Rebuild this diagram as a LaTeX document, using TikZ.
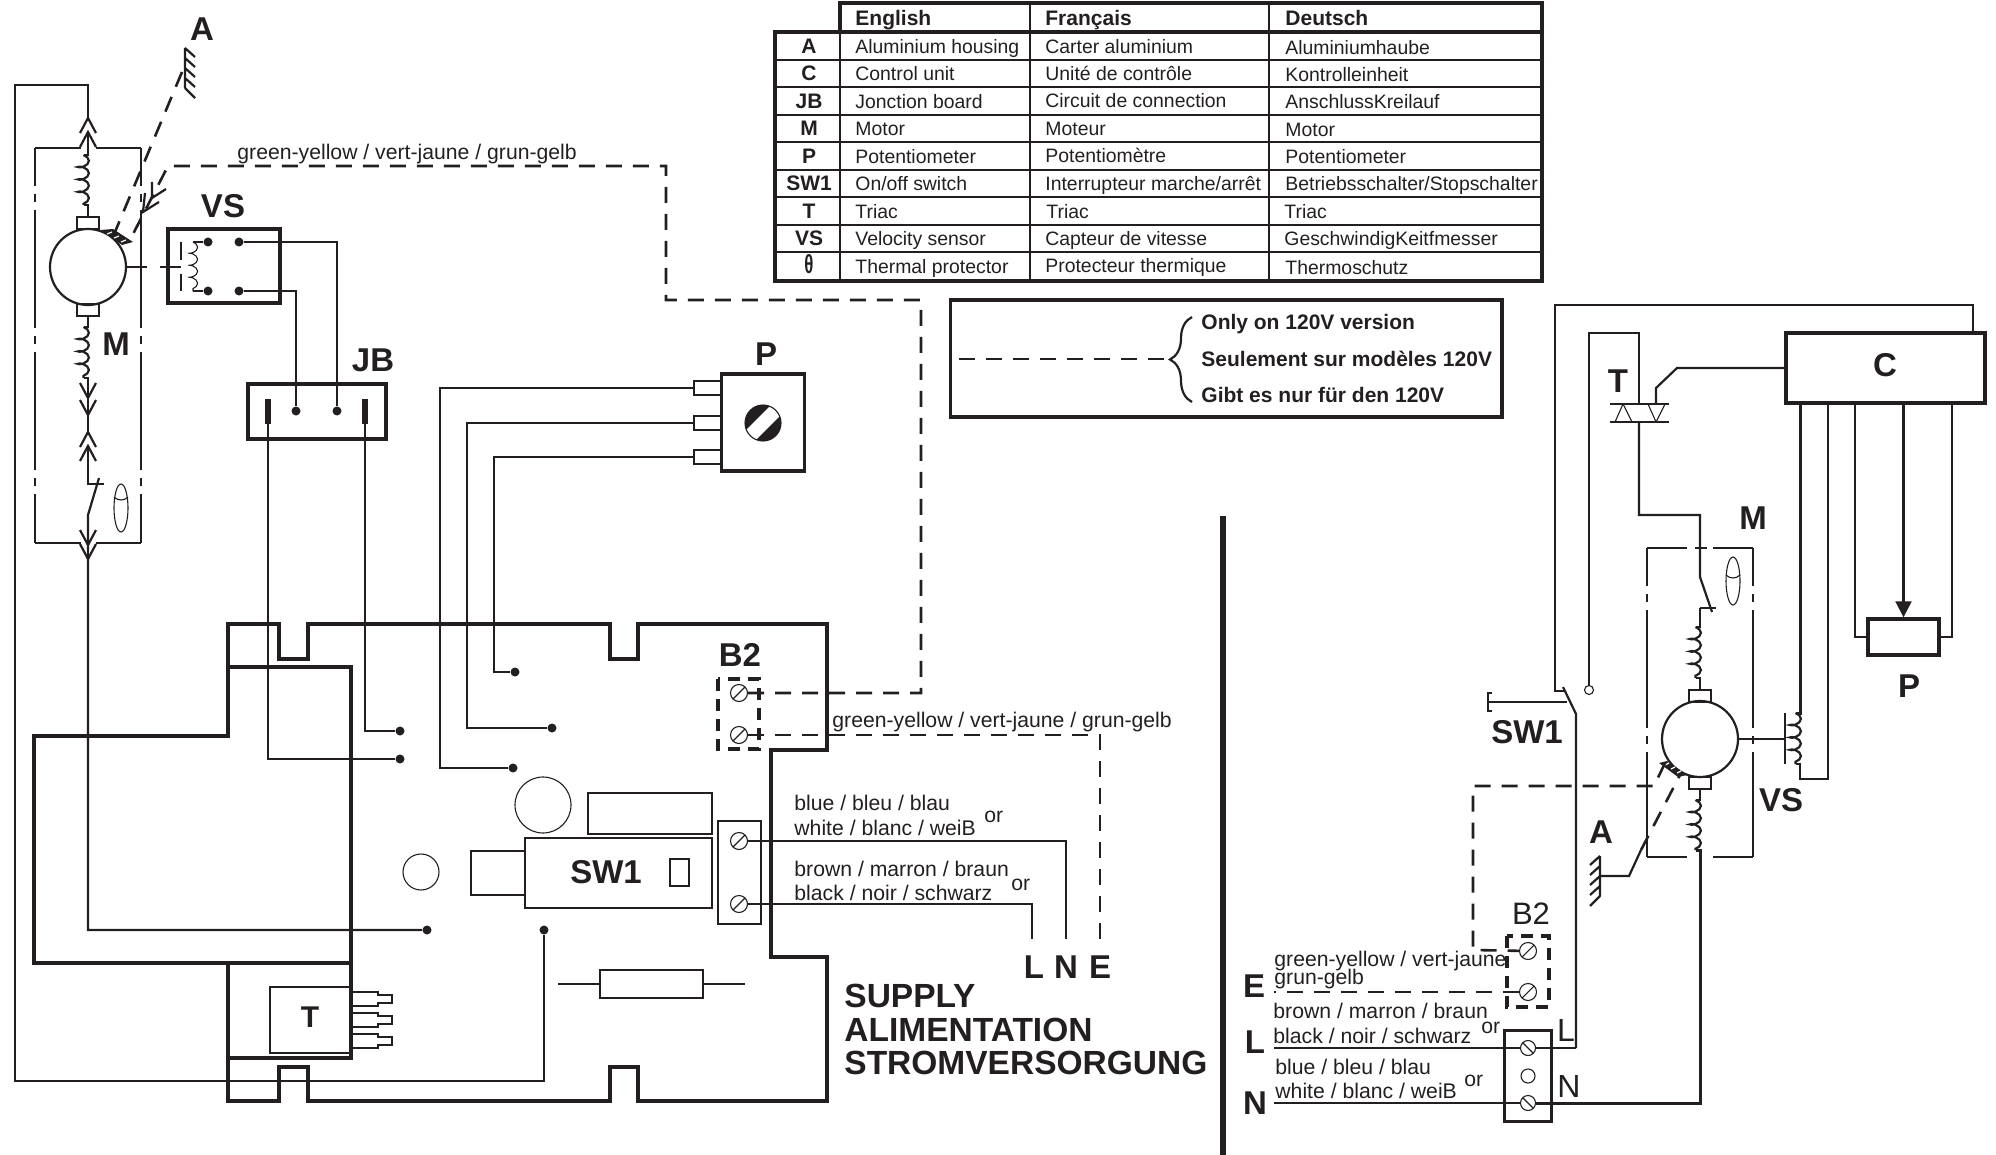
\documentclass[tikz,border=0pt]{standalone}
\usepackage{fontspec}
\setmainfont{Liberation Sans}
\usetikzlibrary{arrows.meta}
\usetikzlibrary{decorations.pathmorphing}
\usetikzlibrary{decorations.pathreplacing}
\definecolor{ink}{RGB}{35,31,32}
\tikzset{wire/.style = {line width = 1.1pt}}
\tikzset{heavy/.style = {line width = 1.5pt}}
\tikzset{fine/.style = {line width = 0.55pt}}
\tikzset{board/.style = {line width = 1.8pt}}
\tikzset{dashw/.style = {line width = 1.3pt, dash pattern = on 8pt off 5.5pt}}
\tikzset{dashbox/.style = {line width = 1.7pt, dash pattern = on 6pt off 4pt}}
\tikzset{dashdot/.style = {line width = 0.55pt, dash pattern = on 59pt off 4pt on 4pt off 4pt, dash phase = 40pt}}
\tikzset{circ/.style = {fill, circle, inner sep = 0, minimum size = 4.5pt}}
\tikzset{box/.style = {draw, line width = 1.7pt, inner sep = 0}}
\tikzset{part/.style = {draw, fine, inner sep = 0}}
\tikzset{motor/.style = {draw, line width = 1.1pt, circle, inner sep = 0, minimum size = 38pt}}
\tikzset{brush/.style = {draw, line width = 1pt, inner sep = 0, minimum width = 11pt, minimum height = 6pt}}
\tikzset{screw/.style = {draw, fine, circle, inner sep = 0, minimum size = 8.5pt,
                         path picture = {\draw [fine] (-8,8) -- (8,-8);}}}
\tikzset{screwb/.style = {draw, fine, circle, inner sep = 0, minimum size = 7.5pt,
                          path picture = {\draw [fine] (-8,-8) -- (8,8);}}}
\tikzset{coilw/.style = {decorate, decoration = {coil, aspect = 0.5, amplitude = 2.7pt, segment length = 6.2pt}}}
\tikzset{lab/.style = {font = \fontsize{16.5}{18}\selectfont\bfseries, inner sep = 0}}
\tikzset{labr/.style = {font = \fontsize{16}{18}\selectfont, inner sep = 0}}
\tikzset{txt/.style = {font = \fontsize{10.6}{12}\selectfont, anchor = base west, inner sep = 0}}
\tikzset{cell/.style = {font = \fontsize{9.7}{12}\selectfont, anchor = base west, inner sep = 0}}
\tikzset{head/.style = {font = \fontsize{10.5}{12}\selectfont\bfseries, anchor = base west, inner sep = 0}}
\tikzset{keyc/.style = {font = \fontsize{10.5}{12}\selectfont\bfseries, anchor = base, inner sep = 0}}
\tikzset{supply/.style = {font = \fontsize{16.75}{18}\selectfont\bfseries, anchor = base west, inner sep = 0}}
\newcommand{\chev}[3]{\draw [wire] (#1-8,#2+#3) -- (#1,#2) -- (#1+8,#2+#3);}
\newcommand{\earth}[3]{\draw [wire] (#1,#2) -- ++(0,40) (#1,#2) -- ++(#3,9) (#1,#2+10) -- ++(#3,9)
  (#1,#2+20) -- ++(#3,9) (#1,#2+30) -- ++(#3,9) (#1,#2+40) -- ++(#3,10);}
\newcommand{\pin}[1]{\draw [fine] (353,#1-7) -- (378,#1-7) -- (378,#1-4) -- (392,#1-4) -- (392,#1+4) -- (378,#1+4) -- (378,#1+7) -- (353,#1+7);}

\begin{document}
\begin{tikzpicture}[x = 0.5pt, y = -0.5pt, color = ink]
      \useasboundingbox (0, 0) rectangle (1996, 1155);

      % table
      \draw [line width = 1.7pt] (840, 3) rectangle (1542, 32);
      \draw [line width = 1.7pt] (775, 32) rectangle (1542, 281);
      \draw [wire] (840, 3) -- (840, 281);
      \draw [wire] (1030, 3) -- (1030, 281);
      \draw [wire] (1269, 3) -- (1269, 281);
      \draw [wire] (775, 60) -- (1542, 60);
      \draw [wire] (775, 87) -- (1542, 87);
      \draw [wire] (775, 115) -- (1542, 115);
      \draw [wire] (775, 142) -- (1542, 142);
      \draw [wire] (775, 170) -- (1542, 170);
      \draw [wire] (775, 197) -- (1542, 197);
      \draw [wire] (775, 225) -- (1542, 225);
      \draw [wire] (775, 252) -- (1542, 252);

      \begin{scope}[yshift = -0.6pt]
      \node [head] (hEn) at (855, 24) {English};
      \node [head] (hFr) at (1045, 24) {Français};
      \node [head] (hDe) at (1285, 24) {Deutsch};
      \node [keyc] (kA) at (809, 52) {A};
      \node [cell] (enA) at (855, 52) {Aluminium housing};
      \node [cell] (frA) at (1045, 52) {Carter aluminium};
      \node [cell] (deA) at (1285, 53) {Aluminiumhaube};
      \node [keyc] (kC) at (809, 79) {C};
      \node [cell] (enC) at (855, 79) {Control unit};
      \node [cell] (frC) at (1045, 79) {Unité de contrôle};
      \node [cell] (deC) at (1285, 80) {Kontrolleinheit};
      \node [keyc] (kJB) at (809, 107) {JB};
      \node [cell] (enJB) at (855, 107) {Jonction board};
      \node [cell] (frJB) at (1045, 106) {Circuit de connection};
      \node [cell] (deJB) at (1285, 107) {AnschlussKreilauf};
      \node [keyc] (kM) at (809, 134) {M};
      \node [cell] (enM) at (855, 134) {Motor};
      \node [cell] (frM) at (1045, 134) {Moteur};
      \node [cell] (deM) at (1285, 135) {Motor};
      \node [keyc] (kP) at (809, 162) {P};
      \node [cell] (enP) at (855, 162) {Potentiometer};
      \node [cell] (frP) at (1045, 161) {Potentiomètre};
      \node [cell] (deP) at (1285, 162) {Potentiometer};
      \node [keyc] (kSW) at (809, 189) {SW1};
      \node [cell] (enSW) at (855, 189) {On/off switch};
      \node [cell] (frSW) at (1045, 189) {Interrupteur marche/arrêt};
      \node [cell] (deSW) at (1285, 189) {Betriebsschalter/Stopschalter};
      \node [keyc] (kT) at (809, 217) {T};
      \node [cell] (enT) at (855, 217) {Triac};
      \node [cell] (frT) at (1046, 217) {Triac};
      \node [cell] (deT) at (1284, 217) {Triac};
      \node [keyc] (kVS) at (809, 244) {VS};
      \node [cell] (enVS) at (855, 244) {Velocity sensor};
      \node [cell] (frVS) at (1045, 244) {Capteur de vitesse};
      \node [cell] (deVS) at (1284, 244) {GeschwindigKeitfmesser};
      \node [keyc] (kTh) at (809, 272) {\scalebox{.8}[1.25]{θ}};
      \node [cell] (enTh) at (855, 272) {Thermal protector};
      \node [cell] (frTh) at (1045, 271) {Protecteur thermique};
      \node [cell] (deTh) at (1285, 273) {Thermoschutz};
      \end{scope}

      % legend
      \node [box, minimum width = 275.7pt, minimum height = 58.5pt] (legend) at (1226.4, 358.5) {};
      \coordinate (legA) at (959, 359);
      \coordinate (legB) at (1170, 359);
      \draw [dashw] (legA) -- (legB);
      \draw [wire, decorate, decoration = {brace, mirror, amplitude = 11pt, aspect = 0.5}] (1192, 317) -- (1192, 402);
      \node [head] (leg1) at (1201, 329) {Only on 120V version};
      \node [head] (leg2) at (1201, 366) {Seulement sur modèles 120V};
      \node [head] (leg3) at (1201, 402) {Gibt es nur für den 120V};

      % left motor
      \node [motor] (mL) at (88, 267) {};
      \node [brush] (brLt) at (88, 223) {};
      \node [brush] (brLb) at (88, 310) {};
      \node [lab] (labM) at (116, 344) {M};
      \node [lab] (labA) at (202, 29) {A};
      \draw [fine] (35, 148) -- (81, 148);
      \draw [fine] (96, 148) -- (141, 148);
      \draw [fine] (35, 543) -- (81, 543);
      \draw [fine] (96, 543) -- (141, 543);
      \draw [dashdot] (35, 148) -- (35, 543);
      \draw [dashdot] (141, 148) -- (141, 543);

      \coordinate (plugA) at (88, 118);
      \coordinate (plugB) at (88, 132);
      \node [circ] (dotN) at (544, 930) {};
      \node [circ] (dotW) at (427, 930) {};
      \draw [wire] (plugA) -- (88, 85) -- (15, 85) -- (15, 1081) -- (544, 1081) -- (dotN);
      \chev{88}{118}{15}
      \chev{88}{132}{15}
      \draw [wire] (plugB) -- (88, 155) -- (83.5, 155);
      \draw [wire, coilw] (83.5, 155) -- (83.5, 205);
      \draw [wire] (83.5, 205) -- (88, 205) -- (brLt);
      \draw [wire] (brLb) -- (88, 327) -- (83.5, 327);
      \draw [wire, coilw] (83.5, 327) -- (83.5, 378);
      \draw [wire] (83.5, 378) -- (88, 378) -- (88, 415);
      \chev{88}{398}{-15}
      \chev{88}{415}{-15}
      \chev{88}{432}{15}
      \chev{88}{446}{15}
      \draw [wire] (88, 415) -- (88, 432);
      \draw [wire] (88, 446) -- (88, 484) -- (104, 484);
      \draw [wire] (99, 478) -- (88, 515) -- (88, 559) -- (88, 930) -- (dotW);
      \chev{88}{545}{-15}
      \chev{88}{559}{-15}
      \draw [fine] (121, 508) ellipse [x radius = 7, y radius = 24];
      \draw [fine] (114, 497) .. controls (118, 501) and (124, 501) .. (128, 497);

      % housing and earth
      \fill (101, 230) -- (113, 229) -- (133, 242) -- (122, 245) -- cycle;
      \draw [white, line width = 0.6pt] (107, 234) -- (112, 232) (114, 238) -- (119, 236) (121, 242) -- (126, 240);
      \earth{185}{48}{10}
      \coordinate (earthL) at (182, 72);
      \coordinate (stripLa) at (115, 232);
      \coordinate (stripLb) at (130, 240);
      \draw [dashw] (earthL) -- (stripLa);
      \draw [wire] (152, 182) -- (152, 198) -- (166, 189);
      \draw [wire] (145, 193) -- (143, 212) -- (159, 202);
      \node [txt] (gyA) at (237, 160) {green-yellow / vert-jaune / grun-gelb};

      % velocity sensor
      \node [box, minimum width = 56pt, minimum height = 37pt] (vs) at (224, 266) {};
      \node [lab] (labVS) at (223, 206) {VS};
      \node [circ] (vsA) at (208, 242) {};
      \node [circ] (vsB) at (208, 291) {};
      \node [circ] (vsC) at (239, 242) {};
      \node [circ] (vsD) at (239, 291) {};
      \draw [fine] (vsA) -- (193, 242);
      \draw [fine, decorate, decoration = {coil, aspect = 0.5, amplitude = 2.3pt, segment length = 6pt}] (193, 242) -- (193, 291);
      \draw [fine] (193, 291) -- (vsB);
      \draw [wire] (181, 242) -- (181, 260);
      \draw [wire] (181, 274) -- (181, 291);
      \draw [wire] (mL) ++(38, 0) -- (147, 267);
      \draw [wire] (160, 267) -- (181, 267);

      % junction board
      \node [box, minimum width = 69pt, minimum height = 27.5pt] (jb) at (317, 411.5) {};
      \node [lab] (labJB) at (373, 360) {JB};
      \node [circ] (jbA) at (296, 411) {};
      \node [circ] (jbB) at (337, 411) {};
      \node [fill, inner sep = 0, minimum width = 3pt, minimum height = 12.5pt] (jbC) at (268, 411.5) {};
      \node [fill, inner sep = 0, minimum width = 3pt, minimum height = 12.5pt] (jbD) at (365, 411.5) {};
      \draw [wire] (vsD) -- (296, 291) -- (jbA);
      \draw [wire] (vsC) -- (337, 242) -- (jbB);
      \node [circ] (pcbA) at (400, 759) {};
      \node [circ] (pcbB) at (400, 731) {};
      \draw [wire] (jbC) -- (268, 759) -- (pcbA);
      \draw [wire] (jbD) -- (365, 731) -- (pcbB);

      % potentiometer
      \node [box, minimum width = 41.5pt, minimum height = 48.5pt] (pot) at (763, 422.5) {};
      \node [lab] (labP) at (766, 354) {P};
      \node [draw, fine, fill, circle, inner sep = 0, minimum size = 18pt,
             path picture = {\draw [white, line width = 7pt] (-20, 20) -- (20, -20);}] (knob) at (763, 423) {};
      \node [part, minimum width = 14pt, minimum height = 7pt] (potA) at (708, 388) {};
      \node [part, minimum width = 14pt, minimum height = 7pt] (potB) at (708, 423) {};
      \node [part, minimum width = 14pt, minimum height = 7pt] (potC) at (708, 457) {};
      \node [circ] (pcbC) at (513, 768) {};
      \node [circ] (pcbD) at (552, 728) {};
      \node [circ] (pcbE) at (515, 672) {};
      \draw [wire] (potA) -- (440, 388) -- (440, 768) -- (pcbC);
      \draw [wire] (potB) -- (467, 423) -- (467, 728) -- (pcbD);
      \draw [wire] (potC) -- (494, 457) -- (494, 672) -- (pcbE);

      % board
      \draw [board] (228, 736) -- (228, 624) -- (279, 624) -- (279, 659) -- (308, 659) -- (308, 624)
        -- (610, 624) -- (610, 659) -- (638, 659) -- (638, 624) -- (827, 624) -- (827, 750) -- (771, 750)
        -- (771, 957) -- (827, 957) -- (827, 1101) -- (638, 1101) -- (638, 1067) -- (610, 1067) -- (610, 1101)
        -- (308, 1101) -- (308, 1067) -- (279, 1067) -- (279, 1101) -- (228, 1101) -- (228, 963) -- (34, 963)
        -- (34, 736) -- cycle;
      \draw [board] (228, 667) -- (351, 667) -- (351, 1058) -- (228, 1058);
      \draw [board] (228, 963) -- (351, 963);

      \node [part, minimum width = 40.5pt, minimum height = 33pt] (triacL) at (310.5, 1020) {};
      \node [lab, font = \fontsize{15}{18}\selectfont\bfseries] (labTl) at (310, 1017) {T};
      \pin{999}
      \pin{1020}
      \pin{1041}
      \node [part, circle, minimum size = 28pt] (capA) at (543, 805) {};
      \node [part, circle, minimum size = 18pt] (capB) at (421, 872) {};
      \node [part, minimum width = 62pt, minimum height = 20.5pt] (relay) at (650, 813.5) {};
      \node [part, minimum width = 93.5pt, minimum height = 35pt] (sw) at (618.5, 873) {};
      \node [part, minimum width = 27pt, minimum height = 22pt] (swTab) at (498, 873) {};
      \node [lab] (labSW) at (606, 872) {SW1};
      \node [part, minimum width = 9.5pt, minimum height = 13.5pt] (swLed) at (679.5, 872.5) {};
      \node [part, minimum width = 51.5pt, minimum height = 14pt] (res) at (651.5, 984) {};
      \coordinate (resA) at (558, 984);
      \coordinate (resB) at (745, 984);
      \draw [fine] (resA) -- (res);
      \draw [fine] (res) -- (resB);

      % supply terminals
      \node [part, minimum width = 21.5pt, minimum height = 51.5pt] (tbL) at (739.5, 872.5) {};
      \node [screw] (scrA) at (739, 841) {};
      \node [screw] (scrB) at (739, 904) {};
      \node [lab] (labB2) at (740, 655) {B2};
      \draw [dashbox] (718, 679) rectangle (759, 749);
      \node [screw] (b2a) at (739, 693) {};
      \node [screw] (b2b) at (739, 735) {};
      \coordinate (endL) at (1032, 939);
      \coordinate (endN) at (1066, 939);
      \coordinate (endE) at (1100, 939);
      \draw [wire] (scrA) -- (1066, 841) -- (endN);
      \draw [wire] (scrB) -- (1032, 904) -- (endL);
      \draw [dashw] (b2a) -- (921, 693) -- (921, 300) -- (666, 300) -- (666, 166) -- (168, 166) -- (stripLb);
      \draw [dashw] (b2b) -- (1100, 735) -- (endE);
      \node [txt] (gyB) at (832, 727) {green-yellow / vert-jaune / grun-gelb};
      \node [txt] (blueA) at (794, 810) {blue / bleu / blau};
      \node [txt] (whiteA) at (794, 835) {white / blanc / weiB};
      \node [txt] (orA) at (984, 822) {or};
      \node [txt] (brownA) at (794, 876) {brown / marron / braun};
      \node [txt] (blackA) at (794, 900) {black / noir / schwarz};
      \node [txt] (orB) at (1011, 890) {or};
      \node [lab] (labL) at (1034, 967) {L};
      \node [lab] (labN) at (1066, 967) {N};
      \node [lab] (labE) at (1100, 967) {E};
      \node [supply] (sup1) at (844, 1007) {SUPPLY};
      \node [supply] (sup2) at (844, 1041) {ALIMENTATION};
      \node [supply] (sup3) at (844, 1074) {STROMVERSORGUNG};

      % divider
      \draw [line width = 2.6pt] (1223, 516) -- (1223, 1155);

      % right side
      \node [box, minimum width = 99.5pt, minimum height = 35pt] (ctrl) at (1885.5, 368) {};
      \node [lab] (labC) at (1885, 365) {C};
      \coordinate (ctrlA) at (1973, 333);
      \draw [wire] (ctrlA) -- (1973, 305) -- (1555, 305) -- (1555, 691) -- (1566, 691);
      \node [draw, fine, circle, fill = white, inner sep = 0, minimum size = 4.5pt] (swOpen) at (1589, 690) {};
      \coordinate (triacA) at (1639, 404);
      \coordinate (triacB) at (1639, 422);
      \draw [wire] (swOpen) -- (1589, 333) -- (1639, 333) -- (triacA);
      \draw [wire] (1610, 404) -- (1669, 404);
      \draw [wire] (1610, 422) -- (1669, 422);
      \draw [fine] (1623, 404) -- (1615, 422) (1623, 404) -- (1632, 422);
      \draw [fine] (1656, 422) -- (1648, 404) (1656, 422) -- (1665, 404);
      \node [lab] (labTr) at (1618, 381) {T};
      \draw [wire] (ctrl.west) -- (1677, 368) -- (1656, 388) -- (1656, 404);
      \coordinate (motA) at (1700, 608);
      \draw [wire] (triacB) -- (1639, 515) -- (1700, 515) -- (1700, 577) -- (1712, 612);
      \draw [wire] (1716, 608) -- (motA);
      \draw [wire] (motA) -- (1700, 627) -- (1695.5, 627);
      \draw [wire, coilw] (1695.5, 627) -- (1695.5, 678);
      \node [lab] (labMr) at (1753, 518) {M};
      \draw [fine] (1647, 548) -- (1687, 548);
      \draw [fine] (1695, 548) -- (1707, 548);
      \draw [fine] (1713, 548) -- (1753, 548);
      \draw [fine] (1647, 857) -- (1687, 857);
      \draw [fine] (1713, 857) -- (1753, 857);
      \draw [dashdot] (1647, 548) -- (1647, 857);
      \draw [dashdot] (1753, 548) -- (1753, 857);
      \draw [fine] (1733, 581) ellipse [x radius = 7, y radius = 24];
      \draw [fine] (1726, 575) .. controls (1730, 579) and (1736, 579) .. (1740, 575);

      \node [motor] (mR) at (1700, 739) {};
      \node [brush] (brRt) at (1700, 696) {};
      \node [brush] (brRb) at (1700, 783) {};
      \draw [wire] (1695.5, 678) -- (1700, 678) -- (brRt);
      \draw [wire] (brRb) -- (1700, 800) -- (1695.5, 800);
      \draw [wire, coilw] (1695.5, 800) -- (1695.5, 850);

      % velocity sensor, right
      \draw [wire] (mR) ++(38, 0) -- (1785, 739);
      \draw [wire] (1785, 713) -- (1785, 764);
      \node [lab] (labVSr) at (1781, 800) {VS};
      \coordinate (ctrlB) at (1800, 403);
      \coordinate (ctrlC) at (1828, 403);
      \draw [heavy] (ctrlB) -- (1800, 713) -- (1795.5, 713);
      \draw [wire, coilw] (1795.5, 713) -- (1795.5, 764);
      \draw [wire] (1795.5, 764) -- (1800, 764) -- (1800, 779) -- (1828, 779) -- (ctrlC);

      % potentiometer, right
      \node [box, minimum width = 35.5pt, minimum height = 18pt] (potR) at (1903.5, 637) {};
      \node [lab] (labPr) at (1909, 686) {P};
      \coordinate (ctrlD) at (1855, 403);
      \coordinate (ctrlE) at (1903.5, 403);
      \coordinate (ctrlF) at (1952, 403);
      \draw [wire] (ctrlD) -- (1855, 637) -- (potR.west);
      \draw [wire] (potR.east) -- (1952, 637) -- (ctrlF);
      \draw [wire, -{Triangle[length = 8pt, width = 8pt]}] (ctrlE) -- (potR.north);

      % switch, right
      \draw [wire] (1563, 687) -- (1576, 714) -- (1576, 1048);
      \draw [wire] (1488, 702) -- (1567, 702);
      \draw [wire] (1492, 693) -- (1488, 693) -- (1488, 711) -- (1492, 711);
      \node [lab] (labSWr) at (1527, 732) {SW1};

      % housing and earth, right
      \fill (1659, 763) -- (1667, 761) -- (1687, 775) -- (1678, 777) -- cycle;
      \draw [white, line width = 0.6pt] (1665, 765) -- (1669, 763) (1671, 769) -- (1675, 767) (1677, 773) -- (1681, 771);
      \earth{1600}{856}{-10}
      \node [lab] (labAr) at (1601, 832) {A};
      \coordinate (earthR) at (1600, 876);
      \coordinate (stripRa) at (1680, 775);
      \coordinate (stripRb) at (1665, 763);
      \draw [wire] (earthR) -- (1629, 876) -- (1641, 850);
      \draw [dashw] (1641, 850) -- (stripRa);

      % mains terminals, right
      \node [lab, font = \fontsize{15.5}{18}\selectfont] (labB2r) at (1531, 914) {B2};
      \draw [dashbox] (1507, 936) rectangle (1549, 1007);
      \node [screw] (b2c) at (1528, 951) {};
      \node [screw] (b2d) at (1528, 992) {};
      \coordinate (endEr) at (1274, 992);
      \draw [dashw] (stripRb) -- (1654, 786) -- (1473, 786) -- (1473, 950) -- (b2c);
      \draw [dashw] (b2d) -- (endEr);
      \node [box, minimum width = 23.5pt, minimum height = 45.5pt] (block) at (1528, 1076) {};
      \node [screwb] (scrL) at (1528, 1048) {};
      \node [screwb] (scrN) at (1528, 1103) {};
      \node [part, circle, minimum size = 7pt] (hole) at (1528, 1076) {};
      \coordinate (endLr) at (1274, 1048);
      \coordinate (endNr) at (1274, 1103);
      \draw [wire] (endLr) -- (scrL);
      \draw [wire] (scrL) -- (1576, 1048);
      \draw [wire] (endNr) -- (scrN);
      \draw [heavy] (scrN) -- (1700, 1103) -- (1700, 850) -- (1695.5, 850);
      \node [txt] (gyC) at (1274, 966) {green-yellow / vert-jaune};
      \node [txt] (gyD) at (1274, 984) {grun-gelb};
      \node [txt] (brownB) at (1273, 1018) {brown / marron / braun};
      \node [txt] (blackB) at (1273, 1043) {black / noir / schwarz};
      \node [txt] (orC) at (1481, 1033) {or};
      \node [txt] (blueB) at (1275, 1074) {blue / bleu / blau};
      \node [txt] (whiteB) at (1275, 1098) {white / blanc / weiB};
      \node [txt] (orD) at (1464, 1086) {or};
      \node [lab] (labEr) at (1254, 986) {E};
      \node [lab] (labLr) at (1255, 1042) {L};
      \node [lab] (labNr) at (1255, 1103) {N};
      \node [labr] (lL) at (1566, 1030) {L};
      \node [labr] (lN) at (1569, 1086) {N};
    \end{tikzpicture}
\end{document}
